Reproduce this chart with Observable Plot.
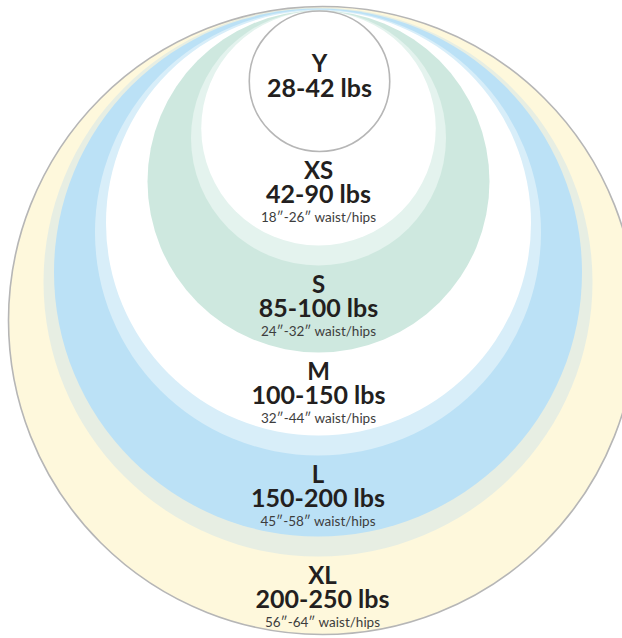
<!DOCTYPE html>
<html>
<head>
<meta charset="utf-8">
<script src="https://cdn.jsdelivr.net/npm/d3@7"></script>
<script src="https://cdn.jsdelivr.net/npm/@observablehq/plot@0.6"></script>
<style>
  html, body { margin: 0; padding: 0; background: #ffffff; }
  #chart svg { display: block; }
</style>
</head>
<body>
<div id="chart"></div>
<script>
// ---- data ----
const sizes        = ["XL", "L", "M", "S", "XS", "Y"];
const weightRanges = ["200-250 lbs", "150-200 lbs", "100-150 lbs", "85-100 lbs", "42-90 lbs", "28-42 lbs"];
const waistRanges  = ["56\u2033-64\u2033 waist/hips", "45\u2033-58\u2033 waist/hips", "32\u2033-44\u2033 waist/hips",
                      "24\u2033-32\u2033 waist/hips", "18\u2033-26\u2033 waist/hips", ""];

// nested discs (outermost first): which size, which part, top & bottom edge and centre, in chart units
const discSize   = ["XL",   "L",    "L",    "M",    "M",    "S",    "XS",   "XS",   "Y"];
const discPart   = ["fill", "ring", "fill", "ring", "fill", "fill", "ring", "fill", "fill"];
const discTop    = [6,      7,      8,      9,      10,     10,     10,     10.5,   10.5];
const discBottom = [634,    556,    536,    455,    435,    352,    265,    245,    151];
const discCentre = [322,    317.5,  317.5,  317.5,  318,    318,    318,    318,    319];

// ---- styles ----
const partKeys    = ["XL fill", "L ring", "L fill", "M ring", "M fill", "S fill", "XS ring", "XS fill", "Y fill"];
const partColours = ["#fef8dc", "#e7eee3", "#bbe1f6", "#d8eef9", "#ffffff", "#cee8df", "#e4f3ee", "#ffffff", "#ffffff"];
const outlined    = ["XL fill", "Y fill"];

// ---- tables built from the arrays ----
const discs = discSize.map((s, i) => ({
  size: s,
  key: `${s} ${discPart[i]}`,
  cx: discCentre[i],
  cy: (discTop[i] + discBottom[i]) / 2,
  r: (discBottom[i] - discTop[i]) / 2
}));

// label block starts just under the next inner size (or is centred in the innermost disc)
const labels = sizes.map((s, i) => {
  const own = discs.filter(d => d.size === s);
  const inner = sizes[i + 1];
  const fillDisc = own.find(d => d.key.endsWith("fill"));
  let nameY, weightY, waistY = null;
  if (inner) {
    const upper = d3.max(discs.filter(d => d.size === inner), d => d.cy + d.r);
    nameY = upper + 27; weightY = upper + 51; waistY = upper + 70;
  } else {
    nameY = fillDisc.cy - 9; weightY = fillDisc.cy + 16;
  }
  return {size: s, weight: weightRanges[i], waist: waistRanges[i],
          x: fillDisc.cx, nameY, weightY, waistY};
});

const textColour = "#231f20";
const font = "Lato, 'Open Sans', sans-serif";

const chart = Plot.plot({
  width: 622,
  height: 638,
  margin: 0,
  style: {fontFamily: font, background: "#ffffff"},
  x: {domain: [0, 622], range: [0, 622], axis: null},
  y: {domain: [0, 638], range: [0, 638], axis: null},
  r: {type: "linear", domain: [0, 400], range: [0, 400]},
  color: {domain: partKeys, range: partColours},
  marks: [
    Plot.dot(discs, {x: "cx", y: "cy", r: "r", fill: "key", stroke: null}),
    Plot.dot(discs.filter(d => outlined.includes(d.key)),
      {x: "cx", y: "cy", r: "r", fill: "none", stroke: "#b6b6b6", strokeWidth: 1.6}),
    // size names
    Plot.text(labels, {
      x: "x", y: "nameY", text: "size",
      fontSize: 24, fontWeight: 700, fill: textColour,
      textAnchor: "middle", lineAnchor: "bottom"
    }),
    // weight ranges
    Plot.text(labels, {
      x: "x", y: "weightY", text: "weight",
      fontSize: 25, fontWeight: 700, fill: textColour,
      textAnchor: "middle", lineAnchor: "bottom"
    }),
    // waist / hips
    Plot.text(labels.filter(d => d.waist !== ""), {
      x: "x", y: "waistY", text: "waist",
      fontSize: 13.5, fontWeight: 400, fill: "#3d3d3d",
      textAnchor: "middle", lineAnchor: "bottom"
    })
  ]
});

document.getElementById("chart").appendChild(chart);
</script>
</body>
</html>
